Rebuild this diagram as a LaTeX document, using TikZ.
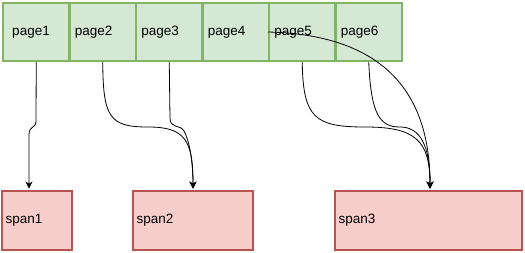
\documentclass[tikz,border=0pt]{standalone}
\usepackage{fontspec}
\setmainfont{Liberation Sans}
\usetikzlibrary{arrows.meta,positioning}
\definecolor{pgline}{HTML}{82B366}
\definecolor{pgfill}{HTML}{D5E8D4}
\definecolor{spline}{HTML}{B85450}
\definecolor{spfill}{HTML}{F8CECC}
\tikzset{
  pagebox/.style={draw=pgline, fill=pgfill, line width=2.5pt, minimum width=66.5pt, minimum height=58pt,
    text width=56pt, inner xsep=5pt, align=left, font=\fontsize{13.5}{16}\selectfont},
  spanbox/.style={draw=spline, fill=spfill, line width=2.5pt, minimum height=59pt,
    inner xsep=3.5pt, align=left, font=\fontsize{13.5}{16}\selectfont},
  edge/.style={-{Stealth[length=7pt,width=7pt,inset=2pt]}, line width=0.8pt, shorten >=1.2pt},
}
\begin{document}
\begin{tikzpicture}[x=1pt,y=-1pt]
  \useasboundingbox (0,0) rectangle (525,253);
  %% pages
  \node[pagebox] (p1) at (36.25,32) {\hspace*{4pt}page1};
  \node[pagebox] (p2) at (102.75,32) {page2};
  \node[pagebox] (p3) at (169.25,32) {page3};
  \node[pagebox] (p4) at (235.75,32) {page4};
  \node[pagebox] (p5) at (302.25,32) {page5};
  \node[pagebox] (p6) at (368.75,32) {page6};

  %% spans
  \node[spanbox, text width=63pt]  (s1) at (37,220.5)    {span1};
  \node[spanbox, text width=113pt] (s2) at (193,220.5)   {span2};
  \node[spanbox, text width=180pt] (s3) at (428.5,220.5) {span3};

  %% connectors
  \draw[edge] (p1.south) -- (36,121) .. controls (36,129) and (29,125) .. (29,135) -- ([xshift=-8pt]s1.north);
  \draw[edge] (p2.south) .. controls (103,118) and (110,127) .. (148,127) .. controls (185,127) and (193,140) .. (s2.north);
  \draw[edge] (p3.south) -- (170,118) .. controls (170,129) and (180,124) .. (184,131) .. controls (189,140) and (193,160) .. (s2.north);
  \draw[edge] (p5.south) .. controls (303,118) and (315,127) .. (365,127) .. controls (415,127) and (430,140) .. ([xshift=1.5pt]s3.north);
  \draw[edge] (p6.south) .. controls (371,115) and (380,127) .. (400,127) .. controls (420,127) and (430,145) .. ([xshift=1.5pt]s3.north);
  \draw[edge] (p5.west) .. controls (400,35) and (430,110) .. ([xshift=1.5pt]s3.north);
\end{tikzpicture}
\end{document}
